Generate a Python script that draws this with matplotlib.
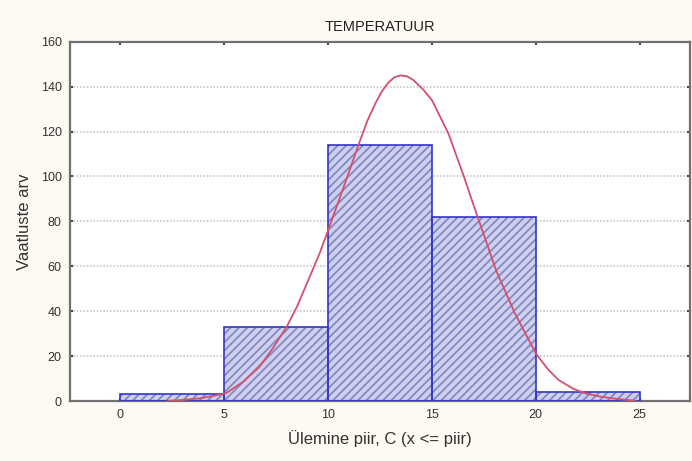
import numpy as np
import matplotlib.pyplot as plt

# histogram of temperature (upper bin limits) and fitted normal curve
bin_left = [0, 5, 10, 15, 20]
counts = [3, 33, 114, 82, 4]
curve_x = [2.3, 3.0, 3.8, 4.5, 5.1, 5.9, 6.7, 7.3, 8.0, 8.5, 9.1, 9.6, 10.0, 10.7,
           11.5, 11.9, 12.3, 12.6, 12.9, 13.2, 13.5, 13.8, 14.1, 14.6, 15.0, 15.8,
           16.5, 17.2, 18.1, 19.0, 20.0, 20.6, 21.1, 21.8, 22.4, 23.1, 23.7, 24.8]
curve_y = [0.1, 0.5, 1.2, 2.3, 3.6, 8.5, 15.3, 23, 33, 42, 55, 66, 76, 94,
           115, 125, 133, 138, 141.8, 144.2, 145, 144.6, 143, 138.5, 134, 119,
           101, 82, 58, 39, 21.3, 14, 9.4, 5.5, 3.4, 2.0, 1.2, 0.1]
x_ticks = [0, 5, 10, 15, 20, 25]
y_ticks = [0, 20, 40, 60, 80, 100, 120, 140, 160]

plt.rcParams['font.family'] = ['Liberation Sans', 'DejaVu Sans']
plt.rcParams['hatch.linewidth'] = 1.3

fig = plt.figure(figsize=(6.92, 4.61), dpi=100, facecolor='#fdf9f3')
ax = fig.add_axes([0.1012, 0.130, 0.8965, 0.7795])
ax.set_facecolor('white')

# y grid only, dotted
for y in y_ticks[1:-1]:
    ax.axhline(y, color='#c8c8c8', lw=1.2, ls=(0, (1, 1)), zorder=0)

# hatched fill first, then blue outline on top
ax.bar(bin_left, counts, width=5, align='edge', color='#cdd0ee',
       edgecolor='#8589c0', hatch='////', lw=0, zorder=2)
ax.bar(bin_left, counts, width=5, align='edge', fill=False,
       edgecolor='#3535c8', lw=1.2, zorder=3)

ax.plot(curve_x, curve_y, color='#d4506e', lw=1.3, zorder=4)

ax.set_xlim(-2.43, 27.45)
ax.set_ylim(0, 160)
ax.set_xticks(x_ticks)
ax.set_yticks(y_ticks)
ax.tick_params(direction='in', length=2.5, width=1.5, color='#444444',
               labelsize=9, labelcolor='#333333', top=True, right=True, pad=6)
for s in ax.spines.values():
    s.set_color('#707070')
    s.set_linewidth(1.6)

ax.set_title('TEMPERATUUR', fontsize=10.5, color='#222222', pad=8)
ax.set_xlabel('Ülemine piir, C (x <= piir)', fontsize=12, color='#333333', labelpad=6)
ax.set_ylabel('Vaatluste arv', fontsize=12, color='#333333', labelpad=6)

plt.savefig('out.png', dpi=100, facecolor=fig.get_facecolor())
